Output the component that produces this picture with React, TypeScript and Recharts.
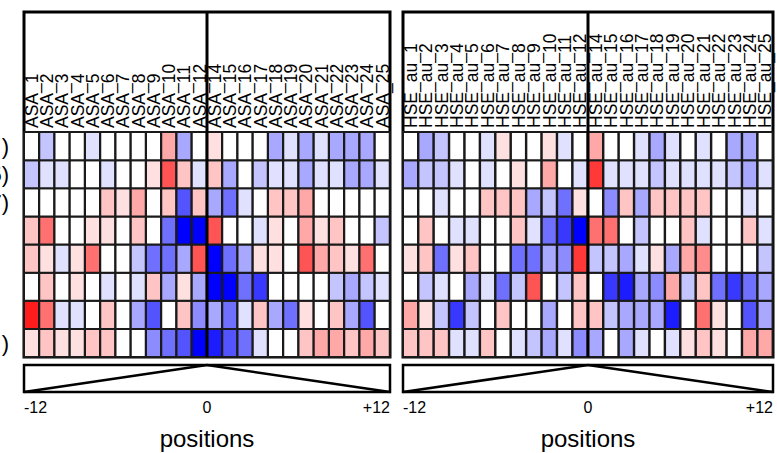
import React from "react";
import {
  BarChart,
  Bar,
  Cell,
  XAxis,
  YAxis,
  ReferenceArea,
  ReferenceLine,
  LabelList,
} from "recharts";

const ASA_COLS = [
  "ASA_1", "ASA_2", "ASA_3", "ASA_4", "ASA_5", "ASA_6", "ASA_7", "ASA_8",
  "ASA_9", "ASA_10", "ASA_11", "ASA_12", "ASA_14", "ASA_15", "ASA_16", "ASA_17",
  "ASA_18", "ASA_19", "ASA_20", "ASA_21", "ASA_22", "ASA_23", "ASA_24", "ASA_25",
];

const HSE_COLS = [
  "HSE_au_1", "HSE_au_2", "HSE_au_3", "HSE_au_4", "HSE_au_5", "HSE_au_6",
  "HSE_au_7", "HSE_au_8", "HSE_au_9", "HSE_au_10", "HSE_au_11", "HSE_au_12",
  "HSE_au_14", "HSE_au_15", "HSE_au_16", "HSE_au_17", "HSE_au_18", "HSE_au_19",
  "HSE_au_20", "HSE_au_21", "HSE_au_22", "HSE_au_23", "HSE_au_24", "HSE_au_25",
];

// row names, cut off by the left edge of the figure
const ROW_LABELS = [")", "5)", "7)", "", "", "", "", ")"];

// position labels under the first column, the centre and the last column
const POSITION_TICKS = [-12, 0, 12];
const AXIS_TITLE = "positions";

// heat levels, -9 (deep blue) .. +9 (deep red), top row first
const ASA_ROWS = [
  [0, -2, 0, 0, -1, 0, 0, 0, 0, 3, -3, 0, 1, 0, 0, 0, -3, -1, -3, -1, -3, -3, -3, 0],
  [-2, -1, -1, 0, 0, -1, 0, 0, 1, 6, 2, -1, 2, -3, 0, -2, -1, -1, -3, -1, -1, -3, -3, -1],
  [0, 0, 0, 0, 0, 2, 1, 3, 0, 2, -6, 2, -3, -5, -1, 0, 2, 2, 3, 0, 0, 0, 0, 0],
  [2, 5, 0, 0, 1, 1, 0, 2, 0, -5, -9, -9, 6, 0, 0, -1, 1, 0, 3, 1, 2, 0, 0, -2],
  [2, 1, -1, 1, 5, 0, 0, -2, -5, -5, -3, 6, -9, -5, -3, 1, 1, 0, 6, 3, 2, 1, 5, 0],
  [0, 2, 0, 1, 0, -1, 0, -1, 2, -3, 1, -3, -9, -9, -5, -7, 0, 0, 0, 0, -2, -3, -2, -1],
  [8, 5, -1, -1, 0, 2, 0, -3, -6, 0, 2, -4, -3, -5, -1, 2, -3, -5, 1, 0, 2, -3, -6, 0],
  [1, 2, 1, 1, 2, 2, 0, 0, -4, -5, -6, -9, -8, -6, -5, -1, 0, 0, 2, 3, 3, 2, 3, 2],
];

const HSE_ROWS = [
  [0, -3, -2, 0, 0, -1, 1, 0, 0, 1, -1, 0, 3, 0, 0, -1, -3, -1, 0, -1, 0, -3, -3, 0],
  [-3, -2, -2, -1, 0, -1, 0, 1, 0, 3, 0, -1, 7, -1, -1, -1, -2, -1, -1, -1, -1, -2, -3, -1],
  [0, 0, -1, 0, 0, 2, 2, 2, -3, -2, -5, 1, 0, -4, 2, -3, 2, 2, 2, 2, 0, 0, -1, 0],
  [0, 2, 0, -1, -1, 0, 0, 2, -1, -5, -7, -9, 5, 5, 0, -2, 0, 0, 2, -1, 0, 0, 2, -1],
  [1, 2, -5, 1, 2, 0, 0, -5, -5, -3, -4, 7, -2, -2, -3, -1, 1, -3, 3, 4, 0, 0, 0, -2],
  [0, -2, -1, 0, -3, -1, -5, -2, 6, 0, -2, 2, 0, -7, -8, -3, -4, 3, -2, 2, -5, -7, -5, -3],
  [3, 1, -2, -7, -2, 0, 2, 0, 0, -3, 0, 2, 2, -2, -3, -3, -3, -8, 0, 5, 1, 0, -6, -3],
  [2, 2, 2, -1, -1, 2, 0, -1, -2, -3, -1, -4, -3, 0, -3, -1, 0, -1, 1, 2, 1, 0, 3, 3],
];

const FONT = "'Liberation Sans', Arial, Helvetica, sans-serif";
const W = 777;
const H = 453;

// vertical layout in "row" units: the 8 rows sit in [0, 8]
const ROW_PX = 28.125;
const TOP = 8 + 120 / ROW_PX; // top of the frame (label area)
const TRAP_TOP = -8 / ROW_PX;
const TRAP_BOTTOM = -35 / ROW_PX;

const heatColor = (v: number) => {
  if (!v) return "#ffffff";
  const c = Math.max(0, 252 - 28 * Math.abs(v));
  return v > 0 ? `rgb(255,${c},${c})` : `rgb(${c},${c},255)`;
};

const buildTable = (cols: string[], rows: number[][]) =>
  cols.map((col) => {
    const d: any = { col };
    rows.forEach((_, r) => {
      d[`s${r}`] = 1;
    });
    return d;
  });

const ColLabel = (props: any) => {
  const { x, y, width, value } = props;
  const cx = x + width / 2;
  const ty = y - 4;
  return (
    <text
      x={cx}
      y={ty}
      dy="0.36em"
      transform={`rotate(-90 ${cx} ${ty})`}
      textAnchor="start"
      fontSize={17.5}
      fill="#000"
    >
      {value}
    </text>
  );
};

const PosTick = (props: any) => {
  const { x, y, payload, index } = props;
  const pos = POSITION_TICKS[index];
  const half = payload?.offset ?? 0;
  // -12 starts at the left edge, +12 ends at the right edge,
  // 0 sits on the boundary between the two halves
  let tx = x - half;
  let anchor = "middle";
  if (pos < 0) anchor = "start";
  if (pos > 0) {
    tx = x + half;
    anchor = "end";
  }
  return (
    <g>
      <text x={tx} y={y} dy="0.71em" textAnchor={anchor} fontSize={16} fill="#000">
        {pos > 0 ? `+${pos}` : `${pos}`}
      </text>
      {pos === 0 ? (
        <text x={tx} y={y + 45} textAnchor="middle" fontSize={24} fill="#000">
          {AXIS_TITLE}
        </text>
      ) : null}
    </g>
  );
};

const Panel = ({ cols, rows, left, width, margin, showRowLabels }: any) => {
  const data = buildTable(cols, rows);
  const rowTicks = ROW_LABELS.map((l, i) => (l ? 7.5 - i : null)).filter(
    (t) => t !== null
  );
  const order = rows.map((_: any, r: number) => r).reverse();
  const first = cols[0];
  const last = cols[cols.length - 1];
  const leftMid = cols[11];
  const rightMid = cols[12];

  return (
    <div style={{ position: "absolute", left, top: 0 }}>
      <BarChart
        width={width}
        height={H}
        data={data}
        margin={margin}
        barCategoryGap={0}
        barGap={0}
      >
        <XAxis
          xAxisId="cat"
          dataKey="col"
          interval={0}
          ticks={[first, rightMid, last]}
          axisLine={false}
          tickLine={false}
          tickSize={0}
          tickMargin={10}
          height={55}
          tick={<PosTick />}
        />
        <YAxis
          yAxisId="v"
          type="number"
          domain={[TRAP_BOTTOM, TOP]}
          allowDataOverflow
          hide={!showRowLabels}
          width={24}
          ticks={rowTicks}
          interval={0}
          axisLine={false}
          tickLine={false}
          tickSize={0}
          tickMargin={15}
          tick={{ fontSize: 22, fill: "#000" }}
          tickFormatter={(v: number) => ROW_LABELS[Math.round(7.5 - v)]}
        />
        {order.map((r: number) => (
          <Bar
            key={r}
            dataKey={`s${r}`}
            stackId="heat"
            xAxisId="cat"
            yAxisId="v"
            isAnimationActive={false}
          >
            {data.map((_: any, i: number) => (
              <Cell
                key={i}
                fill={heatColor(rows[r][i])}
                stroke="#1a1a1a"
                strokeWidth={2}
              />
            ))}
            {r === 0 ? <LabelList dataKey="col" content={ColLabel} /> : null}
          </Bar>
        ))}
        <ReferenceArea
          xAxisId="cat"
          yAxisId="v"
          y1={0}
          y2={TOP}
          fill="none"
          fillOpacity={0}
          stroke="#000"
          strokeWidth={3}
          ifOverflow="visible"
        />
        <ReferenceLine
          xAxisId="cat"
          yAxisId="v"
          position="start"
          segment={[
            { x: rightMid, y: 0 },
            { x: rightMid, y: TOP },
          ]}
          stroke="#000"
          strokeWidth={3}
          ifOverflow="visible"
        />
        <ReferenceArea
          xAxisId="cat"
          yAxisId="v"
          y1={TRAP_BOTTOM}
          y2={TRAP_TOP}
          fill="none"
          fillOpacity={0}
          stroke="#000"
          strokeWidth={2.5}
          ifOverflow="visible"
        />
        <ReferenceLine
          xAxisId="cat"
          yAxisId="v"
          position="start"
          segment={[
            { x: first, y: TRAP_BOTTOM },
            { x: rightMid, y: TRAP_TOP },
          ]}
          stroke="#000"
          strokeWidth={2.5}
          ifOverflow="visible"
        />
        <ReferenceLine
          xAxisId="cat"
          yAxisId="v"
          position="end"
          segment={[
            { x: leftMid, y: TRAP_TOP },
            { x: last, y: TRAP_BOTTOM },
          ]}
          stroke="#000"
          strokeWidth={2.5}
          ifOverflow="visible"
        />
      </BarChart>
    </div>
  );
}

export default function App() {
  return (
    <div
      style={{
        position: "absolute",
        left: 0,
        top: 0,
        width: W,
        height: H,
        background: "#fff",
        fontFamily: FONT,
        overflow: "hidden",
      }}
    >
      <Panel
        cols={ASA_COLS}
        rows={ASA_ROWS}
        left={0}
        width={400}
        margin={{ top: 12, right: 10, bottom: 6, left: 0 }}
        showRowLabels
      />
      <Panel
        cols={HSE_COLS}
        rows={HSE_ROWS}
        left={395}
        width={382}
        margin={{ top: 12, right: 4, bottom: 6, left: 8 }}
        showRowLabels={false}
      />
    </div>
  );
}
